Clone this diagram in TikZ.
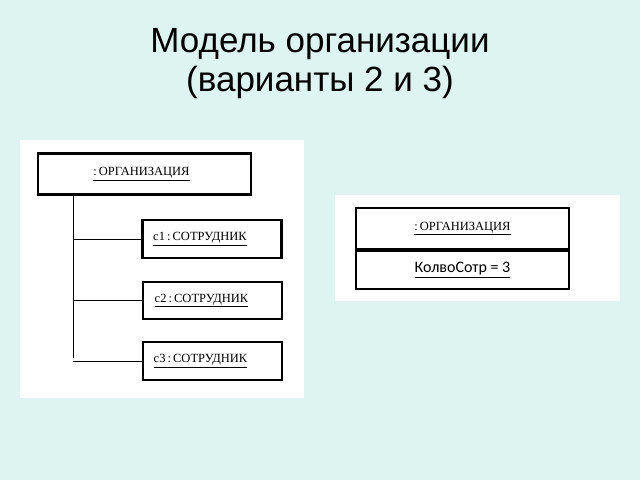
\documentclass[tikz,border=0pt]{standalone}
\usepackage{fontspec}
\setmainfont{Liberation Serif}
\newfontfamily\titlefont{Liberation Sans}
\newfontfamily\attrfont{Carlito}
\usetikzlibrary{positioning}

\definecolor{slidebg}{RGB}{222,244,240}

\tikzset{
	panel/.style={fill=white, draw=none},
	objbox/.style={draw, line width=2.6pt, fill=white, inner sep=0pt,
		minimum width=139pt, minimum height=38pt, font=\fontsize{12.5}{14}\selectfont},
	link/.style={line width=0.8pt},
}

\begin{document}
\begin{tikzpicture}[x=1pt,y=-1pt]

	% slide background
	\fill[slidebg] (0,0) rectangle (640,480);
	\useasboundingbox (0,0) rectangle (640,480);

	% title
	\node[align=center, font=\titlefont\fontsize{35}{39}\selectfont] (title) at (320,64)
		{Модель организации\\(варианты 2 и 3)};

	% white panels
	\fill[panel] (20,140) rectangle (304,398);
	\fill[panel] (335,195) rectangle (620,301);

	% variant 2 : organisation with employees
	\node[objbox, minimum width=213pt, minimum height=41pt] (org) at (144.5,174)
		{\underline{:\,ОРГАНИЗАЦИЯ}\hspace*{6pt}};
	\node[objbox] (c1) at (212,239) {\underline{c1\,:\,СОТРУДНИК}\hspace*{24pt}};
	\node[objbox, minimum height=37pt] (c2) at (212.5,300.5) {\underline{c2\,:\,СОТРУДНИК}\hspace*{22pt}};
	\node[objbox] (c3) at (212.5,361) {\underline{c3\,:\,СОТРУДНИК}\hspace*{24pt}};

	% tree lines
	\coordinate (trunk) at (73,358);
	\draw[link] (org.south -| trunk) -- (trunk);
	\draw[link] (c1.west -| trunk) -- (c1.west);
	\draw[link] (c2.west -| trunk) -- (c2.west);
	\draw[link] (c3.west -| trunk) -- (c3.west);

	% variant 3 : organisation with attribute
	\node[objbox, line width=2pt, minimum width=213pt, minimum height=41pt] (orgB) at (462.5,228.5)
		{\underline{:\,ОРГАНИЗАЦИЯ}};
	\node[objbox, line width=2pt, minimum width=213pt, font=\attrfont\fontsize{16}{18}\selectfont,
		below=0pt of orgB] (count) {\underline{КолвоСотр = 3}};

\end{tikzpicture}
\end{document}
